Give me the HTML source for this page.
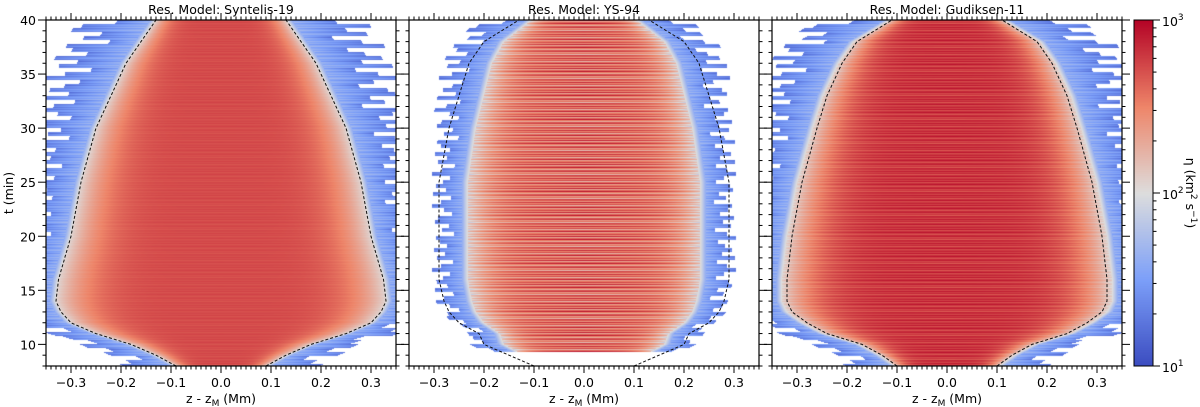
<!DOCTYPE html>
<html><head><meta charset="utf-8">
<style>
html,body{margin:0;padding:0;background:#fff;width:1200px;height:407px;overflow:hidden}
#wrap{position:relative;width:1200px;height:407px;font-family:"DejaVu Sans","Liberation Sans",sans-serif}
canvas{position:absolute;left:0;top:0}
svg{position:absolute;left:0;top:0;font-family:"DejaVu Sans","Liberation Sans",sans-serif}
</style></head><body>
<div id="wrap">
<canvas id="cv" width="1200" height="407"></canvas>
<svg id="sv" width="1200" height="407"></svg>
</div>
<script>
// ---- data ----
const panelTitles = ["Res. Model: Syntelis-19", "Res. Model: YS-94", "Res. Model: Gudiksen-11"];
const contourTimes = [8, 9, 10, 11, 12, 13, 14, 16, 20, 25, 30, 33, 36, 38, 40];
const contourSyntelis = [0.09, 0.13, 0.18, 0.25, 0.30, 0.32, 0.33, 0.325, 0.30, 0.28, 0.25, 0.22, 0.19, 0.16, 0.13];
const contourYS = [0.10, 0.15, 0.20, 0.21, 0.25, 0.27, 0.28, 0.29, 0.29, 0.29, 0.27, 0.25, 0.23, 0.20, 0.13];
const contourGudiksen = [0.10, 0.13, 0.17, 0.24, 0.28, 0.31, 0.32, 0.32, 0.31, 0.29, 0.26, 0.24, 0.21, 0.18, 0.11];
const peakLogEta = [2.72, 2.55, 2.8];
const dataStartTime = [8, 9.3, 8];
const blueBand = [0.075, 0.05, 0.07];
const rowStripe = [0.0, 0.6, -0.3, 0.9, -0.7, 0.2, 1.0, -0.1, -0.8, 0.4, 0.7, -0.5, 0.1, -1.0, 0.6, 0.3, -0.4, 0.8, -0.2, 0.5, -0.9, 0.15, 0.95, -0.6];
const xTickLabels = ["−0.3", "−0.2", "−0.1", "0.0", "0.1", "0.2", "0.3"];
const xTickValues = [-0.3, -0.2, -0.1, 0, 0.1, 0.2, 0.3];
const yTickValues = [10, 15, 20, 25, 30, 35, 40];
const cbarLabels = ["10", "10", "10"];
const cbarExps = ["1", "2", "3"];

const panelsX = [46, 409, 772];
const PW = 350, PT = 20, PB = 366;
const xMin = -0.35, xMax = 0.35, tMin = 8, tMax = 40;
const contours = [contourSyntelis, contourYS, contourGudiksen];
const innerNoise = [0.04, 0.4, 0.15];
const widthFactor = [1.0, 0.8, 1.03];

function xs(p, z){ return panelsX[p] + (z - xMin) / (xMax - xMin) * PW; }
function ys(t){ return PB - (t - tMin) / (tMax - tMin) * (PB - PT); }
function interp(arr, t){
  if (t <= contourTimes[0]) return arr[0];
  for (let i = 1; i < contourTimes.length; i++){
    if (t <= contourTimes[i]){
      const f = (t - contourTimes[i-1]) / (contourTimes[i] - contourTimes[i-1]);
      return arr[i-1] + f * (arr[i] - arr[i-1]);
    }
  }
  return arr[arr.length-1];
}
const cmStops = [[0,59,76,192],[0.25,124,159,249],[0.5,221,221,221],[0.75,238,133,105],[1,180,4,38]];
function cmap(v){
  v = Math.max(0, Math.min(1, v));
  for (let i = 1; i < cmStops.length; i++){
    if (v <= cmStops[i][0]){
      const a = cmStops[i-1], b = cmStops[i], f = (v - a[0]) / (b[0] - a[0]);
      return [a[1]+f*(b[1]-a[1]), a[2]+f*(b[2]-a[2]), a[3]+f*(b[3]-a[3])];
    }
  }
  return [180,4,38];
}

const cv = document.getElementById('cv');
const ctx = cv.getContext('2d');
const img = ctx.createImageData(1200, 407);
for (let p = 0; p < 3; p++){
  for (let py = PT; py < PB; py++){
    const t = tMin + (PB - py - 0.5) / (PB - PT) * (tMax - tMin);
    if (t < dataStartTime[p]) continue;
    const w = interp(contours[p], t) * widthFactor[p];
    const s = rowStripe[(py + p * 7) % rowStripe.length];
    const sL = rowStripe[(Math.floor(py / 4) + 3) % rowStripe.length];
    const sR = rowStripe[(Math.floor(py / 4) + 11) % rowStripe.length];
    const topBoost = 1 + Math.max(0, t - 25) / 15 * 0.6;
    for (let px = panelsX[p]; px < panelsX[p] + PW; px++){
      const z = xMin + (px - panelsX[p] + 0.5) / PW * (xMax - xMin);
      const a = Math.abs(z);
      const band = blueBand[p] * topBoost * (1 + 0.45 * (z < 0 ? sL : sR));
      let le;
      if (a < w){
        const r = a / w;
        le = peakLogEta[p] - (peakLogEta[p] - 2.05) * Math.pow(r, 5) + s * innerNoise[p] * (1 - 0.5 * r);
      } else {
        const d = a - w;
        if (d > band) continue;
        if (d < 0.012) le = 2.05 - d / 0.012 * 0.45;
        else le = 1.6 - 0.35 * (d - 0.012) / band + 0.12 * s;
      }
      const c = cmap((le - 1) / 2);
      const k = (py * 1200 + px) * 4;
      img.data[k] = c[0]; img.data[k+1] = c[1]; img.data[k+2] = c[2]; img.data[k+3] = 255;
    }
  }
}
const CBX = 1134, CBW = 19;
for (let py = PT; py < PB; py++){
  const c = cmap((PB - py) / (PB - PT));
  for (let px = CBX; px < CBX + CBW; px++){
    const k = (py * 1200 + px) * 4;
    img.data[k] = c[0]; img.data[k+1] = c[1]; img.data[k+2] = c[2]; img.data[k+3] = 255;
  }
}
ctx.putImageData(img, 0, 0);

const NS = 'http://www.w3.org/2000/svg';
const sv = document.getElementById('sv');
function el(tag, attrs, parent){
  const e = document.createElementNS(NS, tag);
  for (const k in attrs) e.setAttribute(k, attrs[k]);
  (parent || sv).appendChild(e);
  return e;
}
const FS = 12.5;
for (let p = 0; p < 3; p++){
  const g = el('g', {});
  
  
  const x0 = panelsX[p];
  let dL = '', dR = '';
  for (let t = tMin; t <= tMax + 0.001; t += 0.25){
    const w = interp(contours[p], t);
    dL += (dL ? 'L' : 'M') + xs(p, -w).toFixed(1) + ',' + ys(t).toFixed(1);
    dR += (dR ? 'L' : 'M') + xs(p, w).toFixed(1) + ',' + ys(t).toFixed(1);
  }
  const c1 = el('path', {d: dL, fill: 'none', stroke: '#111', 'stroke-width': 1, 'stroke-dasharray': '3,2'}, g);
  
  
  const c2 = el('path', {d: dR, fill: 'none', stroke: '#111', 'stroke-width': 1, 'stroke-dasharray': '3,2'}, g);
  
  
  const fr = el('rect', {x: x0, y: PT, width: PW, height: PB - PT, fill: 'none', stroke: '#000', 'stroke-width': 1.2}, g);
  
  
  for (let i = -35; i <= 35; i++){
    const z = i / 100, X = xs(p, z);
    const major = (i % 10 === 0 && Math.abs(i) <= 30);
    const L = major ? 7 : 3.5;
    el('line', {x1: X, x2: X, y1: PB, y2: PB + L, stroke: '#000', 'stroke-width': 1}, g);
    el('line', {x1: X, x2: X, y1: PT, y2: PT - L, stroke: '#000', 'stroke-width': 1}, g);
  }
  xTickValues.forEach((v, i) => {
    const tx = el('text', {x: xs(p, v), y: PB + 21, 'font-size': FS, 'text-anchor': 'middle', fill: '#000'}, g);
    tx.textContent = xTickLabels[i];
    
    
  });
  const xl = el('text', {x: x0 + PW / 2, y: PB + 37, 'font-size': FS, 'text-anchor': 'middle', fill: '#000'}, g);
  xl.innerHTML = 'z - z<tspan font-size="9" dy="3">M</tspan><tspan dy="-3"> (Mm)</tspan>';
  
  
  for (let t = 8; t <= 40; t++){
    const Y = ys(t);
    const major = t % 5 === 0;
    const L = major ? 8 : 3.5;
    el('line', {x1: x0, x2: x0 - L, y1: Y, y2: Y, stroke: '#000', 'stroke-width': 1}, g);
    el('line', {x1: x0 + PW, x2: x0 + PW + L, y1: Y, y2: Y, stroke: '#000', 'stroke-width': 1}, g);
  }
  if (p === 0){
    yTickValues.forEach(v => {
      const ty = el('text', {x: x0 - 10, y: ys(v) + 5, 'font-size': FS, 'text-anchor': 'end', fill: '#000'}, g);
      ty.textContent = String(v);
      
      
    });
    const yl = el('text', {x: 0, y: 0, 'font-size': FS, 'text-anchor': 'middle', fill: '#000', transform: 'translate(13,' + ((PT + PB) / 2) + ') rotate(-90)'}, g);
    yl.textContent = 't (min)';
    
    
  }
  const ti = el('text', {x: x0 + PW / 2, y: 14, 'font-size': FS, 'text-anchor': 'middle', fill: '#000'}, g);
  ti.textContent = panelTitles[p];
  
  
}
const cb = el('g', {});


el('rect', {x: CBX, y: PT, width: CBW, height: PB - PT, fill: 'none', stroke: '#000', 'stroke-width': 1}, cb);
function cby(le){ return PB - (le - 1) / 2 * (PB - PT); }
for (let d = 1; d <= 2; d++){
  for (let m = 2; m <= 9; m++){
    const Y = cby(d + Math.log10(m));
    el('line', {x1: CBX + CBW, x2: CBX + CBW + 3.5, y1: Y, y2: Y, stroke: '#000', 'stroke-width': 1}, cb);
  }
}
cbarExps.forEach((e, i) => {
  const Y = cby(i + 1);
  el('line', {x1: CBX + CBW, x2: CBX + CBW + 7, y1: Y, y2: Y, stroke: '#000', 'stroke-width': 1}, cb);
  const t = el('text', {x: CBX + CBW + 9, y: Y + 6, 'font-size': FS, fill: '#000'}, cb);
  t.innerHTML = cbarLabels[i] + '<tspan font-size="9" dy="-6">' + e + '</tspan>';
  
  
});
const cl = el('text', {x: 0, y: 0, 'font-size': FS, 'text-anchor': 'middle', fill: '#000', transform: 'translate(1186,' + ((PT + PB) / 2) + ') rotate(90)'}, cb);
cl.innerHTML = 'η (km<tspan font-size="9" dy="-5">2</tspan><tspan dy="5"> s</tspan><tspan font-size="9" dy="-5">−1</tspan><tspan dy="5">)</tspan>';


</script>
</body></html>
